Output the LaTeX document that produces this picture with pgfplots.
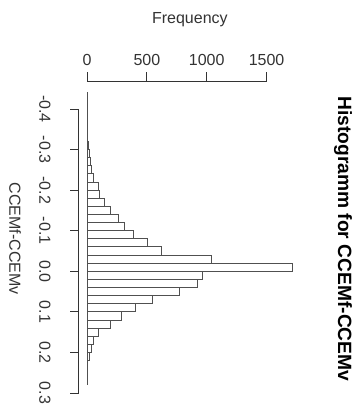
\documentclass[border=0pt]{standalone}
\usepackage{fontspec}
\setmainfont{Liberation Sans}
\usepackage{pgfplots}
\usepackage{pgfplotstable}
\pgfplotsset{compat=1.18}
\definecolor{axcol}{HTML}{333333}
\definecolor{barcol}{HTML}{505050}
\pgfplotstableread{
edge count
-0.44 1
-0.42 1
-0.40 1
-0.38 2
-0.36 4
-0.34 6
-0.32 16
-0.30 20
-0.28 33
-0.26 36
-0.24 55
-0.22 92
-0.20 108
-0.18 150
-0.16 192
-0.14 259
-0.12 317
-0.10 392
-0.08 503
-0.06 626
-0.04 1037
-0.02 1719
0.00 962
0.02 926
0.04 776
0.06 551
0.08 409
0.10 292
0.12 192
0.14 92
0.16 55
0.18 38
0.20 20
0.22 3
0.24 2
0.26 1
0.28 0
}\hist
\begin{document}
\fontsize{12pt}{14pt}\selectfont
\begin{tikzpicture}
\useasboundingbox (-59.1pt,-7.05pt) rectangle (207.9pt,297.45pt);
\begin{axis}[
  at={(0,0)}, anchor=south west,
  scale only axis, width=166.65pt, height=236.6pt,
  xmin=-68.76, xmax=1787.76, ymin=-0.4688, ymax=0.3088,
  y dir=reverse, axis lines=none, clip=false,
]
\addplot[xbar interval, draw=barcol, fill=white, line width=0.75pt] table[x=count,y=edge]{\hist};
% frequency axis (top)
\draw[axcol, line width=0.75pt] (axis cs:0,-0.4688) -- (axis cs:1500,-0.4688);
\draw[axcol, line width=0.75pt] (axis cs:0,-0.4688) -- ([yshift=6.75pt]axis cs:0,-0.4688);
\draw[axcol, line width=0.75pt] (axis cs:500,-0.4688) -- ([yshift=6.75pt]axis cs:500,-0.4688);
\draw[axcol, line width=0.75pt] (axis cs:1000,-0.4688) -- ([yshift=6.75pt]axis cs:1000,-0.4688);
\draw[axcol, line width=0.75pt] (axis cs:1500,-0.4688) -- ([yshift=6.75pt]axis cs:1500,-0.4688);
\node[axcol, anchor=base, yshift=12pt] at (axis cs:0,-0.4688) {0};
\node[axcol, anchor=base, yshift=12pt] at (axis cs:500,-0.4688) {500};
\node[axcol, anchor=base, yshift=12pt] at (axis cs:1000,-0.4688) {1000};
\node[axcol, anchor=base, yshift=12pt] at (axis cs:1500,-0.4688) {1500};
\node[axcol, anchor=base, yshift=43.5pt] at (axis cs:859.5,-0.4688) {Frequency};
% value axis (left)
\draw[axcol, line width=0.75pt] (axis cs:-68.76,-0.4) -- (axis cs:-68.76,0.3);
\draw[axcol, line width=0.75pt] (axis cs:-68.76,-0.4) -- ([xshift=-6.75pt]axis cs:-68.76,-0.4);
\draw[axcol, line width=0.75pt] (axis cs:-68.76,-0.3) -- ([xshift=-6.75pt]axis cs:-68.76,-0.3);
\draw[axcol, line width=0.75pt] (axis cs:-68.76,-0.2) -- ([xshift=-6.75pt]axis cs:-68.76,-0.2);
\draw[axcol, line width=0.75pt] (axis cs:-68.76,-0.1) -- ([xshift=-6.75pt]axis cs:-68.76,-0.1);
\draw[axcol, line width=0.75pt] (axis cs:-68.76,0.0) -- ([xshift=-6.75pt]axis cs:-68.76,0.0);
\draw[axcol, line width=0.75pt] (axis cs:-68.76,0.1) -- ([xshift=-6.75pt]axis cs:-68.76,0.1);
\draw[axcol, line width=0.75pt] (axis cs:-68.76,0.2) -- ([xshift=-6.75pt]axis cs:-68.76,0.2);
\draw[axcol, line width=0.75pt] (axis cs:-68.76,0.3) -- ([xshift=-6.75pt]axis cs:-68.76,0.3);
\node[axcol, rotate=-90] at ([xshift=-25.35pt]axis cs:-68.76,-0.4) {-0.4};
\node[axcol, rotate=-90] at ([xshift=-25.35pt]axis cs:-68.76,-0.3) {-0.3};
\node[axcol, rotate=-90] at ([xshift=-25.35pt]axis cs:-68.76,-0.2) {-0.2};
\node[axcol, rotate=-90] at ([xshift=-25.35pt]axis cs:-68.76,-0.1) {-0.1};
\node[axcol, rotate=-90] at ([xshift=-25.35pt]axis cs:-68.76,0.0) {0.0};
\node[axcol, rotate=-90] at ([xshift=-25.35pt]axis cs:-68.76,0.1) {0.1};
\node[axcol, rotate=-90] at ([xshift=-25.35pt]axis cs:-68.76,0.2) {0.2};
\node[axcol, rotate=-90] at ([xshift=-25.35pt]axis cs:-68.76,0.3) {0.3};
\node[axcol, rotate=-90] at ([xshift=-47.85pt]axis cs:-68.76,-0.08) {CCEMf-CCEMv};
% title (right)
\node[black, rotate=-90, font=\fontsize{14.4pt}{17pt}\selectfont\bfseries] at ([xshift=31.5pt]axis cs:1787.76,-0.08) {Histogramm for CCEMf-CCEMv};
\end{axis}
\end{tikzpicture}
\end{document}
